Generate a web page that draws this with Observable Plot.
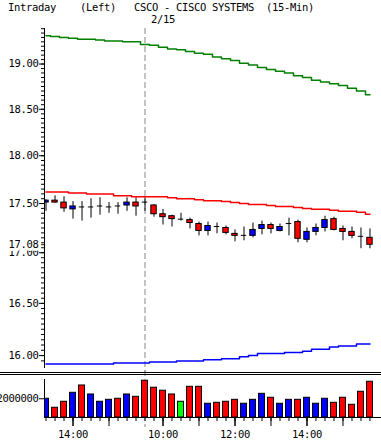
<!DOCTYPE html>
<html><head><meta charset="utf-8">
<script src="https://cdn.jsdelivr.net/npm/d3@7"></script>
<script src="https://cdn.jsdelivr.net/npm/@observablehq/plot@0.6"></script>
<style>
body{margin:0;background:#fff;}
#wrap{position:relative;width:381px;height:444px;overflow:hidden;font-family:"DejaVu Sans Mono",monospace;}
#title{position:absolute;left:8px;top:0px;font-size:10.5px;letter-spacing:-0.32px;white-space:pre;line-height:14px;z-index:3;}
.sep{position:absolute;left:0;width:381px;height:1px;background:#000;z-index:2;}
#wrap svg{position:absolute;left:0;}
</style></head><body>
<div id="wrap"><div id="title"></div><div class="sep" style="top:372px"></div><div class="sep" style="top:374px"></div></div>
<script>
const title = "Intraday    (Left)   CSCO - CISCO SYSTEMS  (15-Min)";
const dayLabel = "2/15";
const times = ["13:15","13:30","13:45","14:00","14:15","14:30","14:45","15:00","15:15","15:30","15:45",
  "09:30","09:45","10:00","10:15","10:30","10:45","11:00","11:15","11:30","11:45","12:00","12:15","12:30","12:45",
  "13:00","13:15","13:30","13:45","14:00","14:15","14:30","14:45","15:00","15:15","15:30","15:45"];
const open  = [17.51,17.53,17.51,17.44,17.47,17.46,17.47,17.46,17.48,17.48,17.51,
  17.52,17.48,17.39,17.37,17.34,17.33,17.29,17.22,17.27,17.25,17.19,17.17,17.17,17.24,17.28,17.22,17.29,17.31,17.13,17.21,17.25,17.34,17.24,17.21,17.17,17.15];
const high  = [17.54,17.58,17.57,17.52,17.52,17.55,17.56,17.51,17.51,17.56,17.56,
  17.56,17.49,17.44,17.38,17.40,17.35,17.31,17.31,17.30,17.27,17.23,17.26,17.30,17.32,17.30,17.29,17.35,17.33,17.25,17.29,17.37,17.36,17.27,17.26,17.25,17.24];
const low   = [17.42,17.50,17.41,17.34,17.32,17.35,17.38,17.40,17.39,17.42,17.37,
  17.42,17.36,17.28,17.26,17.32,17.24,17.17,17.17,17.19,17.18,17.11,17.12,17.15,17.18,17.19,17.21,17.17,17.10,17.10,17.17,17.21,17.22,17.12,17.14,17.04,17.04];
const close = [17.53,17.51,17.45,17.47,17.46,17.47,17.48,17.47,17.47,17.51,17.47,
  17.51,17.39,17.36,17.34,17.34,17.30,17.22,17.27,17.26,17.20,17.17,17.18,17.23,17.28,17.24,17.26,17.30,17.14,17.21,17.25,17.33,17.23,17.21,17.17,17.16,17.08];
const volume = [2000000,1040000,1680000,2640000,3420000,2460000,1680000,1890000,2000000,2460000,2210000,
  3930000,3180000,2860000,2460000,1680000,3280000,3280000,1470000,1570000,1680000,1890000,1470000,1890000,2530000,
  2110000,1470000,1890000,1890000,2110000,1470000,2000000,1570000,2110000,1360000,2750000,3820000];
const bandUpper = [19.32,19.31,19.30,19.29,19.28,19.28,19.27,19.26,19.26,19.25,19.25,
  19.22,19.21,19.19,19.17,19.16,19.14,19.12,19.11,19.08,19.06,19.04,19.01,18.99,18.96,18.94,18.92,18.90,18.87,18.85,18.82,18.80,18.78,18.76,18.73,18.70,18.66];
const bandMid = [17.62,17.62,17.62,17.61,17.61,17.60,17.60,17.60,17.58,17.58,17.57,
  17.57,17.57,17.57,17.56,17.55,17.55,17.54,17.53,17.53,17.52,17.51,17.50,17.49,17.49,17.48,17.47,17.47,17.46,17.45,17.44,17.44,17.43,17.42,17.42,17.41,17.39];
const bandLower = [15.92,15.92,15.92,15.92,15.92,15.92,15.92,15.92,15.93,15.93,15.93,
  15.93,15.94,15.94,15.94,15.95,15.95,15.95,15.96,15.96,15.97,15.97,15.99,16.00,16.02,16.02,16.02,16.03,16.03,16.04,16.06,16.06,16.08,16.09,16.09,16.11,16.11];
const priceLabels = [16.00,16.50,17.00,17.50,18.00,18.50,19.00];
const priceMinorStep = 0.05;
const priceDomain = [15.888, 19.402];
const volumeLabels = [2000000];
const volumeDomain = [0, 4060000];

document.getElementById("title").textContent = title;

const n = times.length;
const bars = d3.range(n).map(i => ({i, t: times[i], o: open[i], h: high[i], l: low[i], c: close[i], v: volume[i],
  up: bandUpper[i], mid: bandMid[i], lo: bandLower[i]}));
const dayStart = times.indexOf("09:30");
const xDomain = [-0.17, n - 1 + 1.28];
const isDoji = d => Math.abs(d.c - d.o) < 0.015;
const hourIdx = bars.filter(d => d.t.endsWith(":00")).map(d => d.i);
const labelIdx = hourIdx.filter(i => +times[i].slice(0, 2) % 2 === 0);
const minorTicks = d3.range(Math.round(priceDomain[0] / priceMinorStep) + 1, Math.floor(priceDomain[1] / priceMinorStep) + 1).map(k => +(k * priceMinorStep).toFixed(2));
const last = bars[n - 1];
const font = {fontFamily: '"DejaVu Sans Mono", monospace', fontSize: "10.5px", letterSpacing: "-0.32px", background: "transparent", overflow: "visible"};
const half = 0.3;

const price = Plot.plot({
  width: 381, height: 372, marginLeft: 44, marginRight: 0, marginTop: 28, marginBottom: 5,
  x: {type: "linear", domain: xDomain, axis: null},
  y: {type: "log", domain: priceDomain, axis: null},
  color: {type: "identity"},
  style: font,
  marks: [
    Plot.ruleX([dayStart], {stroke: "#888", strokeDasharray: "6,3", insetBottom: -5}),
    Plot.ruleX(bars, {x: "i", y1: "l", y2: "h", stroke: "black", clip: true}),
    Plot.rect(bars.filter(d => !isDoji(d)), {x1: d => d.i - half, x2: d => d.i + half, y1: "o", y2: "c",
      fill: d => d.c > d.o ? "#0000ff" : "#ff0000", stroke: "black", clip: true}),
    Plot.ruleY(bars.filter(isDoji), {y: d => (d.o + d.c) / 2, x1: d => d.i - half, x2: d => d.i + half, stroke: "black"}),
    Plot.line(bars, {x: "i", y: "up", stroke: "#008000", curve: "step"}),
    Plot.line(bars, {x: "i", y: "mid", stroke: "#ff0000", curve: "step"}),
    Plot.line(bars, {x: "i", y: "lo", stroke: "#0000ff", curve: "step"}),
    Plot.frame({anchor: "left"}),
    Plot.axisY(minorTicks, {tickSize: 3, tickFormat: () => "", label: null}),
    Plot.axisY(priceLabels, {tickSize: 5, tickPadding: 1, tickFormat: ".2f", label: null}),
    Plot.axisY([last.c], {tickSize: 5, tickFormat: () => "", label: null}),
    Plot.text([last], {y: "c", frameAnchor: "left", dx: -6, textAnchor: "end", text: d => d.c.toFixed(2),
      stroke: "white", strokeWidth: 6, fill: "black"}),
    Plot.text([dayStart], {x: d => d, frameAnchor: "top", text: () => dayLabel, dx: 6, dy: -6,
      textAnchor: "start", lineAnchor: "bottom"})
  ]
});
price.style.top = "0px";
document.getElementById("wrap").appendChild(price);

const vol = Plot.plot({
  width: 381, height: 74, marginLeft: 44, marginRight: 0, marginTop: 9, marginBottom: 27,
  x: {type: "linear", domain: xDomain, axis: null},
  y: {domain: volumeDomain, axis: null},
  color: {type: "identity"},
  style: font,
  marks: [
    Plot.ruleX([dayStart], {stroke: "#888", strokeDasharray: "6,3", insetTop: -9, insetBottom: -10}),
    Plot.rect(bars, {x1: d => d.i - 0.33, x2: d => d.i + 0.33, y1: 0, y2: "v",
      fill: d => d.c > d.o ? "#0000ff" : d.c < d.o ? "#ff0000" : "#00ff00", stroke: "black", clip: true}),
    Plot.ruleY([0]),
    Plot.frame({anchor: "left"}),
    Plot.axisY(volumeLabels, {tickSize: 5, tickPadding: 1, tickFormat: d => String(d), label: null}),
    Plot.axisX(d3.range(n), {tickSize: 4, tickFormat: () => "", label: null}),
    Plot.axisX(hourIdx, {tickSize: 9, tickFormat: () => "", label: null}),
    Plot.axisX(labelIdx, {tickSize: 9, tickPadding: 4, tickFormat: i => times[i], label: null})
  ]
});
vol.style.top = "370px";
document.getElementById("wrap").appendChild(vol);
</script>
</body></html>
